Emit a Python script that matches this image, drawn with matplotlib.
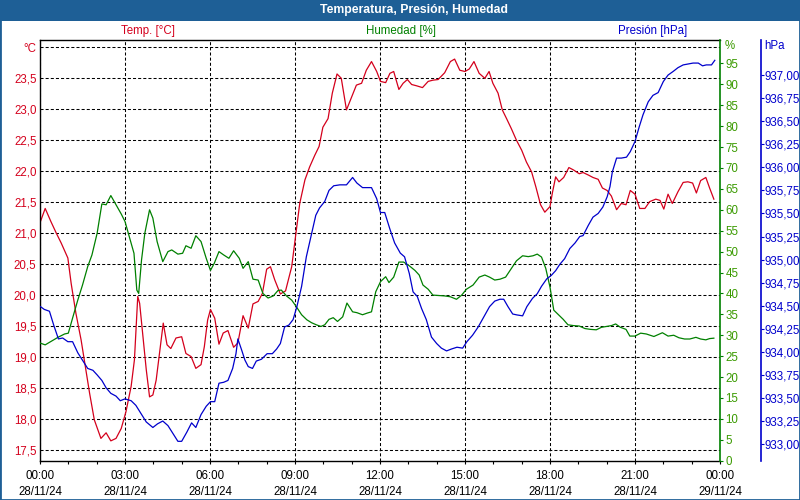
import matplotlib
matplotlib.use("Agg")
import matplotlib.pyplot as plt
from matplotlib.patches import Rectangle
from matplotlib.ticker import MultipleLocator

plt.rcParams['font.family'] = ['Liberation Sans', 'DejaVu Sans']
plt.rcParams['lines.scale_dashes'] = False

# minutos desde 00:00 del 28/11/24
temp_min = [1, 11, 23, 34, 45, 59, 66, 76, 87, 97,
            105, 115, 129, 140, 150, 161, 172, 182, 193, 200,
            207, 211, 218, 225, 232, 239, 246, 253, 261, 269,
            277, 288, 300, 309, 320, 330, 341, 348, 355, 361,
            370, 379, 388, 398, 410, 419, 430, 441, 451, 462,
            471, 480, 488, 497, 509, 520, 533, 542, 550, 561,
            571, 582, 591, 599, 610, 619, 629, 638, 649, 660,
            670, 681, 691, 702, 713, 721, 732, 741, 749, 760,
            769, 778, 787, 797, 810, 822, 832, 843, 857, 869,
            878, 889, 900, 909, 919, 930, 942, 951, 959, 970,
            979, 988, 998, 1009, 1020, 1030, 1041, 1050, 1060, 1069,
            1080, 1085, 1092, 1099, 1109, 1120, 1130, 1142, 1150, 1161,
            1171, 1182, 1191, 1201, 1210, 1221, 1231, 1241, 1250, 1260,
            1270, 1281, 1291, 1304, 1313, 1321, 1330, 1339, 1351, 1362,
            1372, 1382, 1390, 1399, 1410, 1418, 1427]
temp_c = [21.19, 21.40, 21.19, 21.01, 20.84, 20.60, 20.19, 19.71, 19.28, 18.80,
          18.42, 17.99, 17.69, 17.78, 17.65, 17.69, 17.85, 18.12, 18.53, 18.96,
          19.98, 19.87, 19.33, 18.80, 18.36, 18.39, 18.63, 19.06, 19.55, 19.20,
          19.14, 19.31, 19.33, 19.06, 19.01, 18.82, 18.88, 19.17, 19.60, 19.77,
          19.63, 19.21, 19.39, 19.43, 19.16, 19.23, 19.67, 19.47, 19.86, 19.90,
          20.03, 20.42, 20.46, 20.25, 20.02, 20.07, 20.46, 21.00, 21.48, 21.86,
          22.07, 22.26, 22.40, 22.71, 22.85, 23.26, 23.57, 23.50, 22.99, 23.20,
          23.39, 23.42, 23.63, 23.77, 23.61, 23.45, 23.43, 23.58, 23.61, 23.32,
          23.42, 23.48, 23.40, 23.38, 23.35, 23.45, 23.47, 23.48, 23.59, 23.77,
          23.81, 23.63, 23.61, 23.65, 23.77, 23.58, 23.50, 23.61, 23.42, 23.26,
          22.99, 22.85, 22.69, 22.50, 22.34, 22.15, 21.99, 21.75, 21.46, 21.34,
          21.43, 21.65, 21.91, 21.83, 21.90, 22.06, 22.02, 21.96, 21.98, 21.94,
          21.90, 21.87, 21.73, 21.69, 21.60, 21.38, 21.48, 21.46, 21.69, 21.63,
          21.40, 21.40, 21.51, 21.55, 21.53, 21.39, 21.63, 21.48, 21.67, 21.82,
          21.83, 21.81, 21.65, 21.85, 21.90, 21.73, 21.55]

hum_min = [1, 11, 23, 38, 52, 60, 69, 80, 90, 101,
           110, 121, 131, 140, 150, 161, 172, 180, 189, 199,
           205, 209, 215, 222, 232, 239, 248, 260, 271, 279,
           292, 302, 309, 320, 330, 341, 352, 361, 369, 379,
           389, 400, 410, 422, 430, 441, 451, 462, 472, 483,
           494, 504, 511, 522, 533, 543, 554, 565, 575, 585,
           595, 603, 612, 621, 630, 641, 650, 662, 671, 683,
           693, 702, 711, 721, 732, 739, 749, 760, 770, 782,
           794, 803, 811, 822, 832, 845, 857, 869, 882, 893,
           903, 917, 930, 942, 952, 963, 974, 986, 996, 1009,
           1022, 1034, 1044, 1053, 1062, 1071, 1080, 1088, 1097, 1108,
           1118, 1130, 1142, 1154, 1166, 1178, 1189, 1200, 1210, 1219,
           1229, 1241, 1249, 1260, 1272, 1284, 1300, 1318, 1330, 1342,
           1353, 1365, 1376, 1389, 1399, 1410, 1418, 1427]
hum_pct = [28.1, 27.7, 28.5, 29.5, 30.3, 30.5, 34.1, 38.4, 42.0, 46.4,
           49.2, 54.4, 61.4, 61.2, 63.4, 61.2, 59.0, 57.2, 53.6, 49.6,
           40.8, 40.0, 48.0, 54.4, 60.0, 58.0, 52.4, 47.6, 50.0, 50.4,
           49.4, 49.6, 51.4, 50.8, 53.8, 52.4, 48.4, 45.5, 47.2, 50.0,
           49.2, 48.4, 50.2, 48.4, 46.0, 47.6, 43.4, 43.2, 40.0, 38.9,
           39.4, 40.7, 40.8, 39.4, 38.4, 36.8, 34.9, 33.7, 33.0, 32.5,
           32.1, 32.5, 33.8, 34.2, 33.3, 34.4, 37.7, 35.6, 35.4, 34.9,
           35.3, 35.6, 40.4, 42.8, 44.0, 42.6, 43.9, 47.5, 47.5, 46.6,
           45.5, 44.4, 42.0, 41.0, 39.6, 39.5, 39.4, 39.2, 38.6, 39.6,
           41.0, 42.0, 43.9, 44.4, 43.9, 43.2, 43.4, 43.9, 45.6, 47.8,
           49.0, 48.8, 49.0, 49.4, 48.7, 46.0, 41.5, 36.0, 35.0, 33.8,
           32.5, 32.3, 32.2, 31.6, 31.4, 31.3, 31.9, 32.1, 32.3, 32.7,
           31.9, 31.4, 29.8, 29.8, 30.5, 30.3, 29.7, 30.6, 29.8, 30.0,
           29.4, 29.1, 29.1, 29.5, 29.1, 28.9, 29.2, 29.3]

pres_min = [1, 9, 20, 29, 39, 48, 59, 69, 80, 90,
            101, 112, 121, 131, 140, 150, 161, 170, 180, 193,
            203, 214, 225, 239, 249, 260, 271, 281, 292, 300,
            311, 321, 330, 341, 352, 361, 370, 379, 389, 398,
            408, 415, 419, 427, 434, 441, 450, 458, 469, 481,
            492, 501, 509, 518, 527, 536, 544, 554, 564, 575,
            584, 592, 603, 612, 622, 635, 649, 662, 671, 683,
            695, 702, 713, 721, 730, 741, 751, 763, 772, 782,
            790, 799, 808, 818, 829, 840, 850, 861, 871, 883,
            895, 904, 916, 928, 940, 952, 963, 974, 982, 991,
            1001, 1010, 1022, 1031, 1043, 1053, 1062, 1073, 1083, 1092,
            1101, 1111, 1122, 1133, 1143, 1150, 1161, 1171, 1182, 1192,
            1201, 1207, 1212, 1221, 1231, 1242, 1250, 1260, 1269, 1277,
            1288, 1298, 1309, 1320, 1330, 1341, 1351, 1362, 1372, 1383,
            1394, 1403, 1411, 1422, 1429]
pres_hpa = [934.49, 934.46, 934.44, 934.29, 934.14, 934.15, 934.11, 934.11, 933.99, 933.91,
            933.82, 933.80, 933.75, 933.69, 933.61, 933.55, 933.52, 933.47, 933.49, 933.47,
            933.42, 933.33, 933.24, 933.18, 933.22, 933.25, 933.20, 933.12, 933.03, 933.03,
            933.13, 933.23, 933.18, 933.32, 933.41, 933.46, 933.46, 933.66, 933.67, 933.69,
            933.82, 933.98, 934.14, 934.02, 933.91, 933.84, 933.82, 933.90, 933.92, 933.98,
            933.98, 934.03, 934.09, 934.27, 934.29, 934.35, 934.49, 934.71, 935.03, 935.28,
            935.48, 935.56, 935.63, 935.75, 935.80, 935.81, 935.81, 935.89, 935.83, 935.78,
            935.78, 935.78, 935.66, 935.51, 935.51, 935.33, 935.18, 935.07, 935.03, 934.85,
            934.65, 934.60, 934.47, 934.35, 934.16, 934.09, 934.04, 934.01, 934.03, 934.05,
            934.04, 934.11, 934.18, 934.27, 934.38, 934.49, 934.55, 934.57, 934.57, 934.49,
            934.41, 934.40, 934.39, 934.49, 934.58, 934.63, 934.71, 934.79, 934.83, 934.88,
            934.95, 935.01, 935.12, 935.18, 935.25, 935.26, 935.37, 935.46, 935.50, 935.57,
            935.68, 935.79, 935.95, 936.10, 936.10, 936.11, 936.17, 936.28, 936.44, 936.57,
            936.71, 936.78, 936.81, 936.93, 937.00, 937.04, 937.08, 937.11, 937.12, 937.13,
            937.13, 937.10, 937.11, 937.11, 937.16]

x_ticks_h = [0, 3, 6, 9, 12, 15, 18, 21, 24]
x_tick_labels = ["00:00\n28/11/24", "03:00\n28/11/24", "06:00\n28/11/24",
                 "09:00\n28/11/24", "12:00\n28/11/24", "15:00\n28/11/24",
                 "18:00\n28/11/24", "21:00\n28/11/24", "00:00\n29/11/24"]
temp_ticks = [17.5, 18.0, 18.5, 19.0, 19.5, 20.0, 20.5, 21.0, 21.5,
              22.0, 22.5, 23.0, 23.5, 24.0]
hum_ticks = list(range(0, 100, 5))
pres_ticks = [933.00, 933.25, 933.50, 933.75, 934.00, 934.25, 934.50, 934.75,
              935.00, 935.25, 935.50, 935.75, 936.00, 936.25, 936.50, 936.75, 937.00]

RED = '#d4001c'
GREEN = '#008000'
GREEN_TXT = '#3a9a00'
BLUE = '#0000cc'
BAR = '#1e5f96'
W, H = 800, 500
FS = 8.3

fig = plt.figure(figsize=(8, 5), dpi=100)
fig.patch.set_facecolor('white')

# barra de titulo y marco
fig.patches.append(Rectangle((0, 1 - 21 / H), 1, 21 / H, transform=fig.transFigure,
                             facecolor=BAR, edgecolor='none', zorder=0))
fig.patches.append(Rectangle((0, 0), 1, 1, transform=fig.transFigure, fill=False,
                             edgecolor=BAR, linewidth=2.0, zorder=5))
fig.text(414 / W, 1 - 10.5 / H, 'Temperatura, Presión, Humedad', color='white',
         fontsize=8.8, fontweight='bold', ha='center', va='center')

fig.text(148 / W, 1 - 31 / H, 'Temp. [°C]', color=RED, fontsize=FS, ha='center', va='center')
fig.text(401 / W, 1 - 31 / H, 'Humedad [%]', color=GREEN, fontsize=FS, ha='center', va='center')
fig.text(653 / W, 1 - 31 / H, 'Presión [hPa]', color=BLUE, fontsize=FS, ha='center', va='center')

left, right, top, bottom = 40, 720, 40, 460.7
ax = fig.add_axes([left / W, 1 - bottom / H, (right - left) / W, (bottom - top) / H])
ax_h = ax.twinx()
ax_p = ax.twinx()

# temperatura (eje izquierdo)
ax.set_xlim(0, 24)
ax.set_ylim(17.33, 24.118)
ax.set_yticks(temp_ticks)
t_labels = [f"{v:.1f}".replace('.', ',') for v in temp_ticks]
t_labels[-1] = '°C'
ax.set_yticklabels(t_labels)
ax.tick_params(axis='y', length=0, pad=2.5, labelcolor=RED, labelsize=FS)
ax.set_xticks(x_ticks_h)
ax.set_xticklabels(x_tick_labels, fontsize=FS, linespacing=1.5)
ax.xaxis.set_minor_locator(MultipleLocator(1))
ax.tick_params(axis='x', which='both', direction='out', length=2.5, width=0.8, pad=4)
ax.grid(True, color='black', linestyle=(0, (2.2, 1.5)), linewidth=0.75)
for s in ['left', 'top', 'bottom']:
    ax.spines[s].set_color('black')
    ax.spines[s].set_linewidth(1.0)
ax.spines['right'].set_visible(False)

# humedad (eje derecho verde)
ax_h.set_ylim(0, 100.6)
ax_h.set_yticks(hum_ticks)
ax_h.set_yticklabels([str(v) for v in hum_ticks])
ax_h.tick_params(axis='y', direction='out', length=2.5, width=0.8, color=GREEN,
                 labelcolor=GREEN_TXT, labelsize=FS, pad=1.5)
for s in ['left', 'top', 'bottom']:
    ax_h.spines[s].set_visible(False)
ax_h.spines['right'].set_color(GREEN)
ax_h.spines['right'].set_linewidth(1.2)

# presion (eje derecho azul)
ax_p.set_ylim(932.82, 937.38)
ax_p.spines['right'].set_position(('axes', (760.7 - left) / (right - left)))
ax_p.set_yticks(pres_ticks)
ax_p.set_yticklabels([f"{v:.2f}".replace('.', ',') for v in pres_ticks])
ax_p.tick_params(axis='y', direction='out', length=2, width=0.8, color=BLUE,
                 labelcolor=BLUE, labelsize=FS, pad=0.5)
for s in ['left', 'top', 'bottom']:
    ax_p.spines[s].set_visible(False)
ax_p.spines['right'].set_color(BLUE)
ax_p.spines['right'].set_linewidth(1.2)

fig.text(725 / W, 1 - 46 / H, '%', color=GREEN_TXT, fontsize=FS, ha='left', va='center')
fig.text(764 / W, 1 - 46 / H, 'hPa', color=BLUE, fontsize=FS, ha='left', va='center')

ax.plot([m / 60 for m in temp_min], temp_c, color=RED, linewidth=0.9)
ax_h.plot([m / 60 for m in hum_min], hum_pct, color=GREEN, linewidth=0.9)
ax_p.plot([m / 60 for m in pres_min], pres_hpa, color=BLUE, linewidth=0.9)

fig.savefig('out.png', dpi=100)
